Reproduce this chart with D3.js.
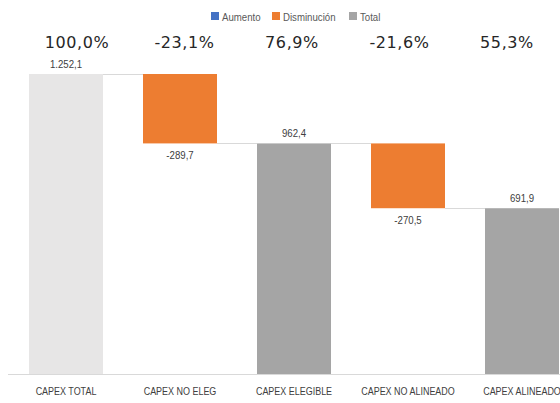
<!DOCTYPE html>
<html><head><meta charset="utf-8">
<script src="https://cdn.jsdelivr.net/npm/d3@7"></script>
<style>body{margin:0;background:#fff}svg{display:block}</style>
</head><body>
<svg id="c" width="560" height="403"></svg>
<script>
const categories = ["CAPEX TOTAL","CAPEX NO ELEG","CAPEX ELEGIBLE","CAPEX NO ALINEADO","CAPEX ALINEADO"];
const values = [1252.1, -289.7, 962.4, -270.5, 691.9];
const kinds = ["total","decrease","total","decrease","total"];
const valueLabels = ["1.252,1","-289,7","962,4","-270,5","691,9"];
const pctLabels = ["100,0%","-23,1%","76,9%","-21,6%","55,3%"];
const legendItems = [["Aumento","#4472c4"],["Disminución","#ed7d31"],["Total","#a5a5a5"]];

const svg = d3.select("#c");
const W = 560, H = 403;
const x = d3.scaleBand().domain(categories).range([29, 559]).paddingInner(0.351).paddingOuter(0);
const y = d3.scaleLinear().domain([0, 1252.1]).range([374, 74]);
const font = "'Liberation Sans',Arial,sans-serif";

// condensed text helper
function ctext(g, tx, ty, str, size, fill, anchor, sx){
  return g.append("text")
    .attr("transform", `translate(${tx},${ty}) scale(${sx||0.84},1)`)
    .attr("text-anchor", anchor||"middle").attr("font-family",font).attr("font-size",size)
    .attr("fill",fill).text(str);
}

// compute waterfall
let run = 0;
const bars = values.map((v,i)=>{
  let y0, y1;
  if (kinds[i]==="total"){ y0=0; y1=v; run=v; }
  else { y0=run+v; y1=run; run=run+v; }
  return {cat:categories[i], v, y0, y1, kind:kinds[i], label:valueLabels[i], idx:i};
});
const colors = {total:"#a5a5a5", decrease:"#ed7d31", increase:"#4472c4"};

// baseline
svg.append("line").attr("x1",8).attr("x2",W).attr("y1",y(0)+0.5).attr("y2",y(0)+0.5)
  .attr("stroke","#d9d9d9").attr("stroke-width",1);

// connectors
bars.slice(0,-1).forEach((b,i)=>{
  const level = b.kind==="total" ? b.y1 : b.y0;
  svg.append("line")
    .attr("x1", x(b.cat)+x.bandwidth()).attr("x2", x(bars[i+1].cat))
    .attr("y1", Math.round(y(level))+0.5).attr("y2", Math.round(y(level))+0.5)
    .attr("stroke","#d9d9d9").attr("stroke-width",1);
});

// bars
svg.selectAll("rect.bar").data(bars).join("rect")
  .attr("x", d=>x(d.cat)).attr("width", x.bandwidth())
  .attr("y", d=>y(Math.max(d.y0,d.y1))).attr("height", d=>Math.abs(y(d.y0)-y(d.y1)))
  .attr("fill", d=> d.idx===0 ? "#e7e6e6" : colors[d.kind]);

// value labels
bars.forEach(d=>{
  ctext(svg, x(d.cat)+x.bandwidth()/2, d.kind==="total" ? y(d.y1)-6 : y(d.y0)+16, d.label, 11.5, "#404040");
});

// category labels
categories.forEach(c=>{
  ctext(svg, x(c)+x.bandwidth()/2, 395, c, 11.5, "#404040", "middle", 0.78);
});

// percent labels
const px = d3.scalePoint().domain(categories).range([77, 507]);
svg.selectAll("text.pct").data(categories).join("text")
  .attr("x", d=>px(d)).attr("y", 48)
  .attr("text-anchor","middle").attr("font-family","'DejaVu Sans',Verdana,sans-serif").attr("font-size",16)
  .attr("letter-spacing",0.6)
  .attr("fill","#262626").text((d,i)=>pctLabels[i]);

// legend
const lx = [211, 272, 349];
legendItems.forEach((it,i)=>{
  svg.append("rect").attr("x",lx[i]).attr("y",12).attr("width",8).attr("height",8).attr("fill",it[1]);
  ctext(svg, lx[i]+11, 20.5, it[0], 11.5, "#595959", "start");
});
</script>
</body></html>
